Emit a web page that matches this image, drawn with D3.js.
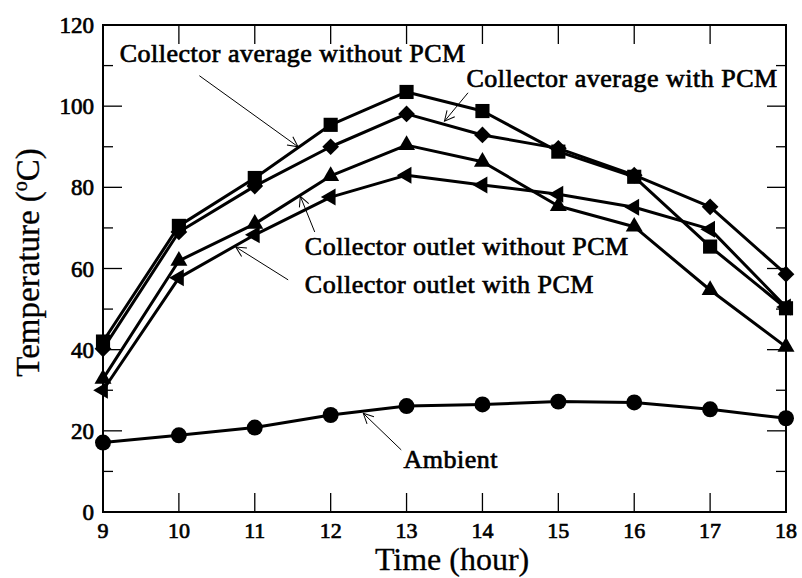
<!DOCTYPE html>
<html>
<head>
<meta charset="utf-8">
<script src="https://cdn.jsdelivr.net/npm/d3@7"></script>
<style>
  body { margin: 0; background: #fff; }
  text { font-family: "Liberation Serif", "Times New Roman", serif; }
  .heavy { stroke: #000; stroke-width: 0.7px; }
</style>
</head>
<body>
<div id="my_dataviz"></div>
<script>
// 0. Data
const hours = [9, 10, 11, 12, 13, 14, 15, 16, 17, 18];
const avgWithoutPCM = [42, 70.5, 82.3, 95.4, 103.5, 98.8, 88.8, 82.6, 65.4, 50.2];
const avgWithPCM = [40.2, 69, 80.3, 90, 98.1, 92.9, 89.6, 83, 75.2, 58.6];
const outletWithoutPCM = [32.8, 61.9, 71, 82.8, 90.4, 86.3, 75.4, 70.3, 54.7, 40.7];
const outletWithPCM = [30, 57.7, 68.3, 77.6, 83, 80.6, 78.3, 75.1, 69.7, 50.5];
const ambient = [17.1, 18.9, 20.8, 23.9, 26.1, 26.5, 27.2, 27.0, 25.3, 23.1];
const yTicks = [0, 20, 40, 60, 80, 100, 120];
const yMinor = [10, 30, 50, 70, 90, 110];

// 1. Margins and dimensions
const margin = { top: 25, right: 16, bottom: 66, left: 103 },
  width = 802 - margin.left - margin.right,
  height = 578 - margin.top - margin.bottom;

// 2. SVG
const svg = d3.select("#my_dataviz")
  .append("svg")
  .attr("width", width + margin.left + margin.right)
  .attr("height", height + margin.top + margin.bottom)
  .append("g")
  .attr("transform", `translate(${margin.left}, ${margin.top})`);

// 3. Scales
const x = d3.scaleLinear().domain([9, 18]).range([0, width]);
const y = d3.scaleLinear().domain([0, 120]).range([height, 0]);

// 4. Ticks (inside, on all four sides)
const majorLen = 19, minorLen = 10;
const ticks = svg.append("g").attr("stroke", "#000").attr("stroke-width", 1.3);
hours.slice(1, -1).forEach((h) => {
  ticks.append("line").attr("x1", x(h)).attr("x2", x(h)).attr("y1", height).attr("y2", height - majorLen);
  ticks.append("line").attr("x1", x(h)).attr("x2", x(h)).attr("y1", 0).attr("y2", majorLen);
});
yTicks.slice(1, -1).forEach((v) => {
  ticks.append("line").attr("x1", 0).attr("x2", majorLen).attr("y1", y(v)).attr("y2", y(v));
  ticks.append("line").attr("x1", width).attr("x2", width - majorLen).attr("y1", y(v)).attr("y2", y(v));
});
yMinor.forEach((v) => {
  ticks.append("line").attr("x1", 0).attr("x2", minorLen).attr("y1", y(v)).attr("y2", y(v));
  ticks.append("line").attr("x1", width).attr("x2", width - minorLen).attr("y1", y(v)).attr("y2", y(v));
});

// 5. Tick labels
svg.selectAll(".xlab")
  .data(hours)
  .enter()
  .append("text")
  .attr("class", "heavy")
  .attr("x", (d) => x(d))
  .attr("y", height + 26)
  .attr("text-anchor", "middle")
  .attr("font-size", 22)
  .text((d) => d);

svg.selectAll(".ylab")
  .data(yTicks)
  .enter()
  .append("text")
  .attr("class", "heavy")
  .attr("x", -9)
  .attr("y", (d) => y(d) + 8)
  .attr("text-anchor", "end")
  .attr("font-size", 23)
  .text((d) => d);

// 6. Axis titles
svg.append("text")
  .attr("x", x(13.6))
  .attr("y", height + 58)
  .attr("text-anchor", "middle")
  .attr("font-size", 32)
  .attr("stroke", "#000")
  .attr("stroke-width", 0.3)
  .text("Time (hour)");

const yTitle = svg.append("text")
  .attr("transform", `translate(-64, ${y(61.5)}) rotate(-90)`)
  .attr("text-anchor", "middle")
  .attr("font-size", 33)
  .attr("stroke", "#000")
  .attr("stroke-width", 0.3);
yTitle.append("tspan").text("Temperature (");
yTitle.append("tspan").attr("font-size", 20).attr("dy", -12).text("o");
yTitle.append("tspan").attr("dy", 12).text("C)");

// 7. Series lines and markers
const series = [
  { values: ambient, shape: "circle" },
  { values: outletWithPCM, shape: "left" },
  { values: outletWithoutPCM, shape: "up" },
  { values: avgWithPCM, shape: "diamond" },
  { values: avgWithoutPCM, shape: "square" }
];

const line = d3.line()
  .x((d, i) => x(hours[i]))
  .y((d) => y(d));

const symbolPath = {
  circle: d3.symbol().type(d3.symbolCircle).size(200)(),
  square: d3.symbol().type(d3.symbolSquare).size(200)(),
  diamond: d3.symbol().type(d3.symbolSquare).size(140)(),
  up: d3.symbol().type(d3.symbolTriangle).size(125)(),
  left: d3.symbol().type(d3.symbolTriangle).size(125)()
};
const symbolRotate = { circle: 0, square: 0, diamond: 45, up: 0, left: -90 };

series.forEach((s) => {
  svg.append("path")
    .datum(s.values)
    .attr("fill", "none")
    .attr("stroke", "#000")
    .attr("stroke-width", 3)
    .attr("stroke-linejoin", "round")
    .attr("d", line);

  svg.selectAll(null)
    .data(s.values)
    .enter()
    .append("path")
    .attr("d", symbolPath[s.shape])
    .attr("fill", "#000")
    .attr("transform", (d, i) => `translate(${x(hours[i])}, ${y(d)}) rotate(${symbolRotate[s.shape]})`);
});

// 8. Frame
svg.append("rect")
  .attr("width", width)
  .attr("height", height)
  .attr("fill", "none")
  .attr("stroke", "#000")
  .attr("stroke-width", 2);

// 9. Annotations with thin arrows (coordinates in data units)
const notes = [
  { text: "Collector average without PCM", tx: 9.22, ty: 110.8, from: [10.27, 107.5], to: [11.57, 90.0] },
  { text: "Collector average with PCM", tx: 13.79, ty: 104.8, from: [13.81, 103.3], to: [13.5, 96.3] },
  { text: "Collector outlet without PCM", tx: 11.66, ty: 63.3, from: [11.79, 69.0], to: [11.6, 77.8] },
  { text: "Collector outlet with PCM", tx: 11.66, ty: 54, from: [11.44, 57.2], to: [10.75, 65.3] },
  { text: "Ambient", tx: 12.96, ty: 10.8, from: [12.93, 15.3], to: [12.43, 24.3] }
];

svg.append("defs")
  .append("marker")
  .attr("id", "arrow")
  .attr("viewBox", "0 0 12 12")
  .attr("refX", 11)
  .attr("refY", 6)
  .attr("markerWidth", 12)
  .attr("markerHeight", 12)
  .attr("markerUnits", "userSpaceOnUse")
  .attr("orient", "auto")
  .append("path")
  .attr("d", "M1,1 L11,6 L1,11")
  .attr("fill", "none")
  .attr("stroke", "#000")
  .attr("stroke-width", 1);

notes.forEach((n) => {
  svg.append("line")
    .attr("x1", x(n.from[0]))
    .attr("y1", y(n.from[1]))
    .attr("x2", x(n.to[0]))
    .attr("y2", y(n.to[1]))
    .attr("stroke", "#000")
    .attr("stroke-width", 1)
    .attr("marker-end", "url(#arrow)");

  svg.append("text")
    .attr("class", "heavy")
    .attr("x", x(n.tx))
    .attr("y", y(n.ty))
    .attr("font-size", 26)
    .attr("letter-spacing", 0.5)
    .text(n.text);
});
</script>
</body>
</html>
